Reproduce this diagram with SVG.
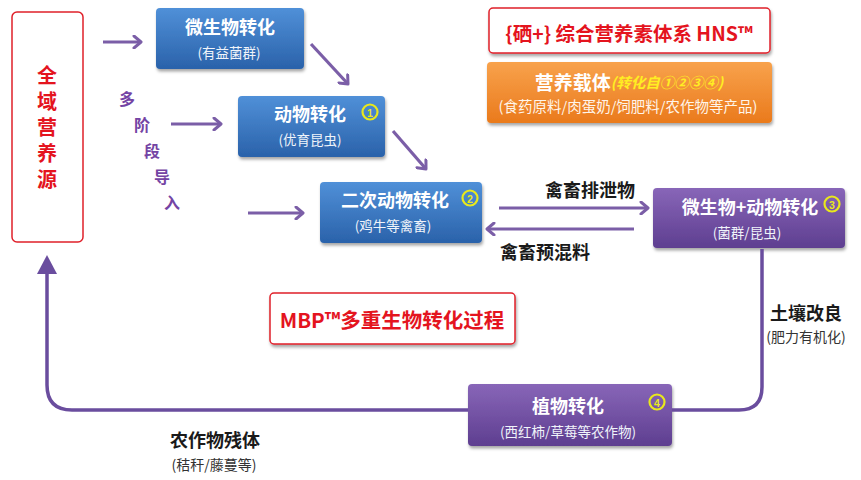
<svg xmlns="http://www.w3.org/2000/svg" width="861" height="480" viewBox="0 0 861 480">
<defs>
<linearGradient id="gBlue" x1="0" y1="0" x2="0" y2="1"><stop offset="0" stop-color="#5090d8"/><stop offset="1" stop-color="#2a62aa"/></linearGradient>
<linearGradient id="gPurple" x1="0" y1="0" x2="0" y2="1"><stop offset="0" stop-color="#8866b8"/><stop offset="1" stop-color="#5e3e90"/></linearGradient>
<linearGradient id="gOrange" x1="0" y1="0" x2="0" y2="1"><stop offset="0" stop-color="#f8a24c"/><stop offset="1" stop-color="#ea7a1c"/></linearGradient>
<filter id="sh" x="-10%" y="-20%" width="125%" height="150%"><feDropShadow dx="1" dy="2.5" stdDeviation="1.8" flood-color="#000" flood-opacity="0.35"/></filter>
<marker id="chev" markerWidth="14" markerHeight="14" refX="10" refY="7" orient="auto" markerUnits="userSpaceOnUse"><path d="M3,1 L10,7 L3,13" fill="none" stroke="#7b5ea7" stroke-width="3" stroke-linecap="round" stroke-linejoin="round"/></marker>
<marker id="tri" markerWidth="22" markerHeight="22" refX="2" refY="11" orient="auto" markerUnits="userSpaceOnUse"><path d="M0,1 L19,11 L0,21 Z" fill="#6a4d9e"/></marker>
</defs>
<style>
text{font-family:"Noto Sans CJK SC","Liberation Sans",sans-serif;dominant-baseline:central;text-anchor:middle}
.t{fill:#fff;font-size:18px;font-weight:700}
.s{fill:#f0f4fa;font-size:13.5px}
.lbl{fill:#1a1a1a;font-size:18px;font-weight:700}
.sub{fill:#333;font-size:14px}
.red{fill:#e4141e;font-weight:700}
.pur{fill:#7444a4;font-size:16px;font-weight:700}
.rbox{fill:#fff;stroke:#e0202a;stroke-width:1.5}
.num{fill:none;stroke:#e8e81c;stroke-width:2.2}
.nt{fill:#e8e81c;font-size:10.5px;font-weight:700;font-family:"Liberation Sans",sans-serif}
.ar{fill:none;stroke:#7b5ea7;stroke-width:3.2;marker-end:url(#chev)}
.loop{fill:none;stroke:#6a4d9e;stroke-width:3.5}
</style>

<g id="source">
<rect class="rbox" x="12" y="12" width="71" height="230" rx="5"/>
<text class="red" writing-mode="tb" style="font-size:20px;letter-spacing:6px" x="47" y="130">全域营养源</text>
</g>

<g id="multistage">
<text class="pur" x="127" y="98">多</text>
<text class="pur" x="142" y="124">阶</text>
<text class="pur" x="152" y="150">段</text>
<text class="pur" x="162" y="176">导</text>
<text class="pur" x="172" y="202">入</text>
</g>

<g id="microbe">
<rect x="156" y="8" width="148" height="61" rx="4" fill="url(#gBlue)" filter="url(#sh)"/>
<text class="t" x="230" y="26">微生物转化</text>
<text class="s" x="229" y="52">(有益菌群)</text>
</g>

<g id="animal">
<rect x="238" y="96" width="147" height="61" rx="4" fill="url(#gBlue)" filter="url(#sh)"/>
<text class="t" x="310" y="113">动物转化</text>
<circle class="num" cx="370" cy="112" r="7.5"/><text class="nt" x="370" y="112.5">1</text>
<text class="s" x="310" y="139">(优育昆虫)</text>
</g>

<g id="secondary">
<rect x="320" y="182" width="162" height="61" rx="4" fill="url(#gBlue)" filter="url(#sh)"/>
<text class="t" x="395" y="199">二次动物转化</text>
<circle class="num" cx="470" cy="198" r="7.5"/><text class="nt" x="470" y="198.5">2</text>
<text class="s" x="393" y="225">(鸡牛等禽畜)</text>
</g>

<g id="microanimal">
<rect x="653" y="188" width="192" height="60" rx="4" fill="url(#gPurple)" filter="url(#sh)"/>
<text class="t" x="750" y="206">微生物+动物转化</text>
<circle class="num" cx="832" cy="204" r="7.5"/><text class="nt" x="832" y="204.5">3</text>
<text class="s" x="747" y="232">(菌群/昆虫)</text>
</g>

<g id="plant">
<rect x="468" y="384" width="204" height="62" rx="4" fill="url(#gPurple)" filter="url(#sh)"/>
<text class="t" x="568" y="405">植物转化</text>
<circle class="num" cx="657" cy="402" r="7.5"/><text class="nt" x="657" y="402.5">4</text>
<text class="s" x="568" y="431">(西红柿/草莓等农作物)</text>
</g>

<g id="hns">
<rect class="rbox" x="489" y="8" width="281" height="45" rx="4" filter="url(#sh)"/>
<text class="red" style="font-size:19.5px" x="629" y="32">{硒+} 综合营养素体系 HNS™</text>
</g>

<g id="carrier">
<rect x="487" y="62" width="285" height="61" rx="4" fill="url(#gOrange)" filter="url(#sh)"/>
<text x="629" y="81" style="font-size:19px;font-weight:700;fill:#fff">营养载体<tspan style="font-size:14.5px;font-style:italic;fill:#ffee22">(转化自①②③④)</tspan></text>
<text x="628" y="105" style="font-size:14.5px;fill:#fff5ea">(食药原料/肉蛋奶/饲肥料/农作物等产品)</text>
</g>

<g id="mbp">
<rect class="rbox" x="270" y="293" width="245" height="51" rx="4" filter="url(#sh)"/>
<text class="red" style="font-size:20.5px" x="392" y="319">MBP™多重生物转化过程</text>
</g>

<g id="labels">
<text class="lbl" x="590" y="189">禽畜排泄物</text>
<text class="lbl" x="545" y="251">禽畜预混料</text>
<text class="lbl" x="806" y="312">土壤改良</text>
<text class="sub" x="806" y="336">(肥力有机化)</text>
<text class="lbl" x="215" y="439">农作物残体</text>
<text class="sub" x="214" y="464">(秸秆/藤蔓等)</text>
</g>

<g id="connectors">
<path class="ar" d="M103,42 L141,42"/>
<path class="ar" d="M311,44 L348,84"/>
<path class="ar" d="M171,124 L221,124"/>
<path class="ar" d="M393,131 L426,169"/>
<path class="ar" d="M248,213 L303,213"/>
<path class="ar" d="M499,208 L648,208"/>
<path class="ar" d="M634,229 L487,229"/>
<path class="loop" d="M762,249 L762,387 Q762,410 739,410 L672,410"/>
<path class="loop" d="M468,410 L72,410 Q47,410 47,385 L47,272" marker-end="url(#tri)"/>
</g>
</svg>
